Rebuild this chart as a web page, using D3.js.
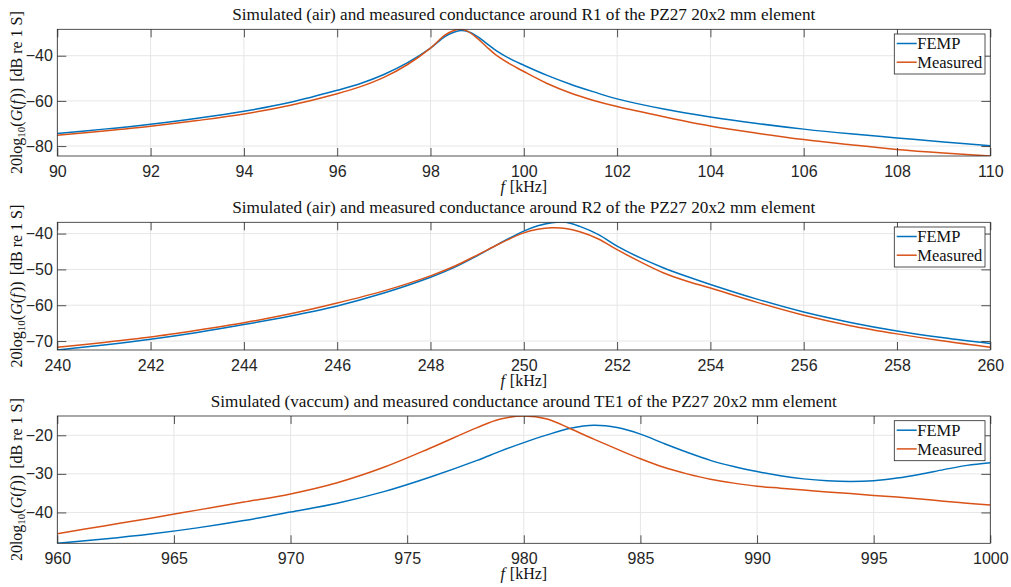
<!DOCTYPE html>
<html><head><meta charset="utf-8">
<script src="https://cdn.jsdelivr.net/npm/d3@7"></script>
<style>body{margin:0;background:#fff}</style>
</head><body><svg id="c" width="1011" height="587"></svg>
<script>
// ---------- Panel 1: R1 ----------
const r1Freq = [90,91,92,93,94,95,96,96.5,97,97.5,98,98.3,98.5,98.65,98.8,99.0,99.2,99.4,99.7,100,100.5,101,101.5,102,103,104,105,106,107,108,109,110];
const r1Femp = [-74.4,-72.5,-70.3,-67.7,-64.6,-60.6,-55.3,-52.3,-48.3,-43.2,-36.6,-31.6,-29.6,-28.85,-29.3,-31.4,-34.5,-37.6,-41.3,-44.2,-48.7,-52.6,-56.0,-59.1,-63.6,-67.1,-70.0,-72.5,-74.6,-76.4,-78.2,-79.9];
const r1Meas = [-75.2,-73.3,-71.2,-68.7,-65.8,-61.9,-56.8,-53.7,-49.6,-44.0,-36.6,-31.0,-28.8,-28.3,-29.2,-32.2,-36.0,-39.6,-43.6,-47.0,-52.3,-56.5,-59.8,-62.5,-67.0,-71.1,-74.3,-77.1,-79.4,-81.5,-83.1,-84.4];
const r1XTicks = [90,92,94,96,98,100,102,104,106,108,110];
const r1YTicks = [-80,-60,-40];
const r1Title = "Simulated (air) and measured conductance around R1 of the PZ27 20x2 mm element";

// ---------- Panel 2: R2 ----------
const r2Freq = [240,241,242,243,244,245,246,247,248,248.5,249,249.5,250,250.3,250.6,250.9,251.2,251.6,252,252.5,253,253.5,254,255,256,257,258,259,260];
const r2Femp = [-72.5,-71.1,-69.5,-67.6,-65.4,-63.0,-60.2,-56.6,-52.2,-49.5,-46.2,-42.6,-39.3,-37.8,-36.95,-36.85,-38.0,-40.3,-43.5,-46.8,-49.6,-52.0,-54.2,-58.3,-61.9,-64.8,-67.2,-69.1,-70.7];
const r2Meas = [-71.7,-70.4,-68.9,-67.0,-64.9,-62.4,-59.4,-56.0,-51.8,-49.2,-46.0,-42.7,-39.8,-38.8,-38.4,-38.6,-39.5,-41.5,-44.5,-47.9,-51.0,-53.3,-55.2,-59.2,-62.8,-65.7,-68.0,-70.0,-71.7];
const r2XTicks = [240,242,244,246,248,250,252,254,256,258,260];
const r2YTicks = [-70,-60,-50,-40];
const r2Title = "Simulated (air) and measured conductance around R2 of the PZ27 20x2 mm element";

// ---------- Panel 3: TE1 ----------
const te1Freq = [960,962,964,966,968,970,972,974,976,978,979,980,981,982,983,984,985,986,987,988,989,990,991,992,993,994,995,996,997,998,999,1000];
const te1Femp = [-48.0,-46.9,-45.6,-44.0,-42.1,-39.9,-37.6,-34.6,-30.8,-26.5,-24.1,-21.9,-19.9,-18.2,-17.4,-18.0,-19.7,-22.1,-24.4,-26.5,-28.1,-29.4,-30.5,-31.3,-31.8,-32.0,-31.8,-31.1,-30.1,-28.9,-27.8,-27.1];
const te1Meas = [-45.5,-43.5,-41.5,-39.4,-37.3,-35.2,-32.3,-28.3,-23.3,-18.0,-15.8,-15.0,-15.8,-18.3,-21.0,-23.6,-26.1,-28.3,-30.0,-31.4,-32.4,-33.2,-33.7,-34.2,-34.7,-35.1,-35.6,-36.0,-36.5,-37.1,-37.6,-38.1];
const te1XTicks = [960,965,970,975,980,985,990,995,1000];
const te1YTicks = [-40,-30,-20];
const te1Title = "Simulated (vaccum) and measured conductance around TE1 of the PZ27 20x2 mm element";

const seriesNames = ["FEMP","Measured"];
const seriesColors = ["#0072BD","#D95319"];

// ---------- layout ----------
const L = 57.3, R = 990.3;
const panels = [
  {freq:r1Freq, ys:[r1Femp,r1Meas], xt:r1XTicks, yt:r1YTicks, title:r1Title, top:29.3, bottom:156, titleW:583},
  {freq:r2Freq, ys:[r2Femp,r2Meas], xt:r2XTicks, yt:r2YTicks, title:r2Title, top:222.3, bottom:350, titleW:583},
  {freq:te1Freq, ys:[te1Femp,te1Meas], xt:te1XTicks, yt:te1YTicks, title:te1Title, top:416, bottom:543.3, titleW:626}
];

const svg = d3.select("#c");
const serif = "'Liberation Serif','Times New Roman',serif";
const sans = "'Liberation Sans',Arial,Helvetica,sans-serif";
const axisCol = "#262626";

panels.forEach((p, i) => {
  const x = d3.scaleLinear().domain([p.xt[0], p.xt[p.xt.length-1]]).range([L, R]);
  const all = p.ys[0].concat(p.ys[1]);
  const y = d3.scaleLinear().domain(d3.extent(all)).range([p.bottom, p.top]);
  const g = svg.append("g");

  const clipId = "clip" + i;
  svg.append("clipPath").attr("id", clipId).append("rect")
    .attr("x", L).attr("y", p.top).attr("width", R - L).attr("height", p.bottom - p.top);

  // grid
  g.append("g").selectAll("line").data(p.xt).join("line")
    .attr("x1", d => x(d)).attr("x2", d => x(d)).attr("y1", p.top).attr("y2", p.bottom)
    .attr("stroke", "#e6e6e6").attr("stroke-width", 1);
  g.append("g").selectAll("line").data(p.yt).join("line")
    .attr("x1", L).attr("x2", R).attr("y1", d => y(d)).attr("y2", d => y(d))
    .attr("stroke", "#e6e6e6").attr("stroke-width", 1);

  // lines
  const line = d3.line().x(d => x(d[0])).y(d => y(d[1])).curve(d3.curveCatmullRom.alpha(0.5));
  p.ys.forEach((vals, k) => {
    g.append("path").datum(p.freq.map((f, j) => [f, vals[j]]))
      .attr("d", line).attr("fill", "none")
      .attr("stroke", seriesColors[k]).attr("stroke-width", 1.5)
      .attr("clip-path", `url(#${clipId})`);
  });

  // axes (inward ticks)
  const ax = (gen, tr, labels) => {
    const a = g.append("g").attr("transform", tr).call(gen);
    a.select(".domain").remove();
    a.selectAll(".tick line").attr("stroke", axisCol).attr("stroke-width", 0.8);
    a.selectAll("text").attr("font-family", sans).attr("font-size", 16).attr("fill", axisCol);
    if (!labels) a.selectAll("text").remove();
    return a;
  };
  ax(d3.axisBottom(x).tickValues(p.xt).tickFormat(d3.format("d")).tickSizeInner(-8).tickSizeOuter(0).tickPadding(9.5),
     `translate(0,${p.bottom})`, true);
  ax(d3.axisTop(x).tickValues(p.xt).tickSizeInner(-8).tickSizeOuter(0), `translate(0,${p.top})`, false);
  ax(d3.axisLeft(y).tickValues(p.yt).tickFormat(d3.format("d")).tickSizeInner(-9).tickSizeOuter(0).tickPadding(4.5),
     `translate(${L},0)`, true);
  ax(d3.axisRight(y).tickValues(p.yt).tickSizeInner(-9).tickSizeOuter(0), `translate(${R},0)`, false);

  // box
  g.append("rect").attr("x", L).attr("y", p.top).attr("width", R - L).attr("height", p.bottom - p.top)
    .attr("fill", "none").attr("stroke", axisCol).attr("stroke-width", 0.8);

  // title
  g.append("text").attr("x", (L + R) / 2).attr("y", p.top - 9.5)
    .attr("text-anchor", "middle").attr("font-family", serif).attr("font-size", 16)
    .attr("fill", "#111").attr("textLength", p.titleW).attr("lengthAdjust", "spacingAndGlyphs")
    .text(p.title);

  // x label
  const xl = g.append("text").attr("x", (L + R) / 2).attr("y", p.bottom + 36)
    .attr("text-anchor", "middle").attr("font-family", serif).attr("font-size", 16).attr("fill", "#111");
  xl.append("tspan").attr("font-style", "italic").text("f");
  xl.append("tspan").attr("dx", 5).text("[kHz]");

  // y label
  const yl = g.append("text")
    .attr("transform", `translate(22,${(p.top + p.bottom) / 2}) rotate(-90)`)
    .attr("text-anchor", "middle").attr("font-family", serif).attr("font-size", 16).attr("fill", "#111");
  yl.append("tspan").text("20log");
  yl.append("tspan").attr("font-size", 11).attr("dy", 3).text("10");
  yl.append("tspan").attr("dy", -3).text("(");
  yl.append("tspan").attr("font-style", "italic").text("G");
  yl.append("tspan").text("(");
  yl.append("tspan").attr("font-style", "italic").text("f");
  yl.append("tspan").attr("dx", 1.5).text("))");
  yl.append("tspan").attr("dx", 6).text("[dB re 1 S]");

  // legend
  const lg = g.append("g").attr("transform", `translate(894.3,${p.top + 4.7})`);
  lg.append("rect").attr("width", 90.7).attr("height", 40).attr("fill", "#fff")
    .attr("stroke", axisCol).attr("stroke-width", 0.8);
  seriesNames.forEach((n, k) => {
    const yy = 9.5 + k * 18.7;
    lg.append("line").attr("x1", 2.4).attr("x2", 22.4).attr("y1", yy).attr("y2", yy)
      .attr("stroke", seriesColors[k]).attr("stroke-width", 1.5);
    lg.append("text").attr("x", 23).attr("y", yy).attr("dy", "0.35em")
      .attr("font-family", serif).attr("font-size", 16.5).attr("fill", "#111").text(n);
  });
});
</script></body></html>
